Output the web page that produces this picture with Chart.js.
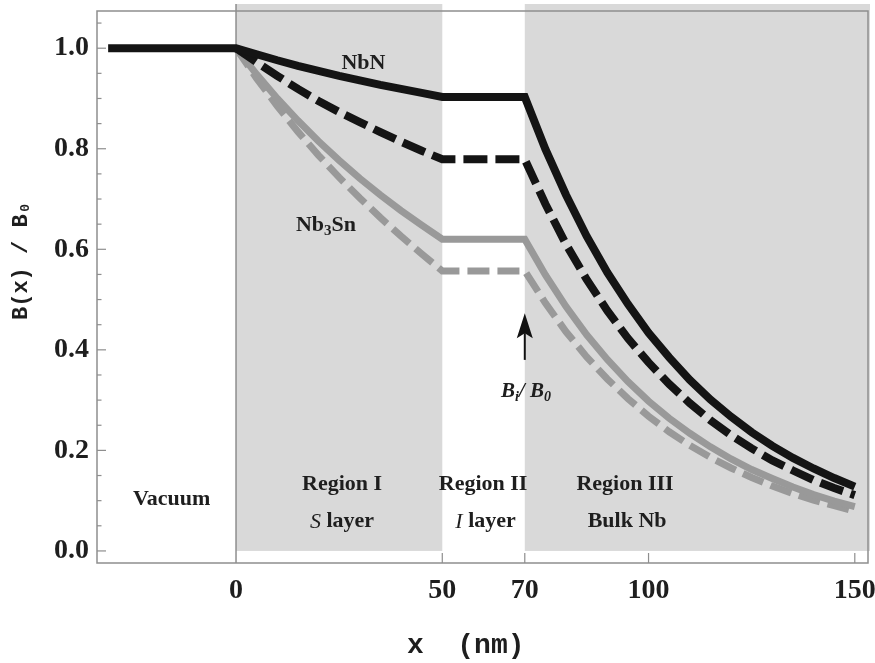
<!DOCTYPE html>
<html><head><meta charset="utf-8">
<script src="https://cdn.jsdelivr.net/npm/chart.js@4.4.0/dist/chart.umd.min.js"></script>
<style>html,body{margin:0;padding:0;background:#fff;}canvas{display:block;}</style>
</head><body>
<canvas id="c" width="875" height="663"></canvas>
<script>
// ---- data ----
const xVacuum = [-31, 0];
const yVacuum = [1.0, 1.0];
const xRegionI = [0,5,10,15,20,25,30,35,40,45,50];
const xRegionIII = [70,75,80,85,90,95,100,105,110,115,120,125,130,135,140,145,150];

const nbnSolidI = [1.000,0.988,0.976,0.965,0.955,0.945,0.936,0.927,0.919,0.911,0.903];
const nbnSolidIII = [0.903,0.799,0.708,0.626,0.554,0.491,0.434,0.385,0.340,0.301,0.267,0.236,0.209,0.185,0.164,0.145,0.128];
const nbnDashI = [1.000,0.972,0.945,0.919,0.895,0.873,0.853,0.833,0.814,0.796,0.779];
const nbnDashIII = [0.779,0.690,0.610,0.540,0.478,0.423,0.375,0.332,0.294,0.260,0.230,0.204,0.180,0.160,0.141,0.125,0.111];
const nb3snSolidI = [1.000,0.948,0.900,0.856,0.815,0.777,0.741,0.708,0.677,0.648,0.620];
const nb3snSolidIII = [0.620,0.549,0.486,0.430,0.381,0.337,0.298,0.264,0.234,0.207,0.183,0.162,0.144,0.127,0.112,0.099,0.088];
const nb3snDashI = [1.000,0.940,0.885,0.834,0.787,0.743,0.702,0.663,0.626,0.591,0.557];
const nb3snDashIII = [0.557,0.493,0.436,0.386,0.342,0.303,0.268,0.237,0.210,0.186,0.165,0.146,0.129,0.114,0.101,0.090,0.079];

const xTicks = [0, 50, 70, 100, 150];
const yTicks = [0, 0.2, 0.4, 0.6, 0.8, 1.0];
const shadedBands = [[0, 50], [70, 160]];
const arrowX = 70, arrowFrom = 0.38, arrowTo = 0.473;

function pts(xs, ys){ return xs.map((x,i)=>({x:x, y:ys[i]})); }
function series(yI, yIII, withVacuum){
  const a = withVacuum ? pts(xVacuum, yVacuum).slice(0,1) : [];
  return a.concat(pts(xRegionI, yI), pts(xRegionIII, yIII));
}

const SERIF = '"Liberation Serif", "Times New Roman", serif';
const MONO = '"Liberation Mono", "DejaVu Sans Mono", monospace';
const txt = '#1e1e1e';

function drawRuns(ctx, parts, cx, cy){
  let w = 0;
  for (const p of parts){ ctx.font = p.f; p.w = ctx.measureText(p.t).width; w += p.w; }
  let xx = cx - w/2;
  ctx.textAlign = 'left'; ctx.textBaseline = 'middle';
  for (const p of parts){ ctx.font = p.f; ctx.fillText(p.t, xx, cy + (p.dy||0)); xx += p.w; }
}
const B22 = 'bold 22px ' + SERIF, I22 = 'italic 22px ' + SERIF, B15 = 'bold 15px ' + SERIF;
const BI21 = 'italic bold 21px ' + SERIF, BI14 = 'italic bold 14px ' + SERIF;
const annotations = [
  {x:30.9, y:0.969, parts:[{t:'NbN', f:B22}]},
  {x:21.8, y:0.648, parts:[{t:'Nb', f:B22},{t:'3', f:B15, dy:6},{t:'Sn', f:B22}]},
  {x:-15.6, y:0.103, parts:[{t:'Vacuum', f:B22}]},
  {x:25.7, y:0.133, parts:[{t:'Region I', f:B22}]},
  {x:25.7, y:0.058, parts:[{t:'S', f:I22},{t:' layer', f:B22}]},
  {x:59.9, y:0.133, parts:[{t:'Region II', f:B22}]},
  {x:60.5, y:0.058, parts:[{t:'I', f:I22},{t:' layer', f:B22}]},
  {x:94.3, y:0.133, parts:[{t:'Region III', f:B22}]},
  {x:94.8, y:0.058, parts:[{t:'Bulk Nb', f:B22}]},
  {x:70.3, y:0.316, parts:[{t:'B', f:BI21},{t:'i', f:BI14, dy:5},{t:'/ ', f:BI21},{t:'B', f:BI21},{t:'0', f:BI14, dy:5}]}
];

const decor = {
  id:'decor',
  beforeDatasetsDraw(chart){
    const {ctx, chartArea:a, scales:{x, y}} = chart;
    ctx.save();
    const y0 = y.getPixelForValue(0);
    const top = a.top - 7;
    ctx.fillStyle = '#d9d9d9';
    for (const [s,e] of shadedBands){
      const xs = x.getPixelForValue(s);
      const xe = Math.min(x.getPixelForValue(e), a.right + 2);
      ctx.fillRect(xs, top, xe - xs, y0 - top);
    }
    ctx.strokeStyle = '#8e8e8e'; ctx.lineWidth = 1.5;
    ctx.strokeRect(a.left, a.top, a.right - a.left, a.bottom - a.top);
    const px0 = x.getPixelForValue(0);
    ctx.beginPath(); ctx.moveTo(px0, top); ctx.lineTo(px0, a.bottom); ctx.stroke();
    ctx.lineWidth = 1.2;
    for (let i = 0; i <= 21; i++){
      const v = i * 0.05;
      const py = y.getPixelForValue(v);
      if (py < a.top) continue;
      const len = (i % 4 === 0) ? 9 : 4.5;
      ctx.beginPath(); ctx.moveTo(a.left, py); ctx.lineTo(a.left + len, py); ctx.stroke();
    }
    for (const v of xTicks){
      if (v === 0) continue;
      const px = x.getPixelForValue(v);
      ctx.beginPath(); ctx.moveTo(px, a.bottom); ctx.lineTo(px, a.bottom - 10); ctx.stroke();
    }
    ctx.restore();
  },
  afterDatasetsDraw(chart){
    const {ctx, scales:{x, y}} = chart;
    ctx.save();
    ctx.fillStyle = txt;
    for (const an of annotations){
      drawRuns(ctx, an.parts, x.getPixelForValue(an.x), y.getPixelForValue(an.y));
    }
    const ax = x.getPixelForValue(arrowX);
    const yb = y.getPixelForValue(arrowFrom), yt = y.getPixelForValue(arrowTo);
    ctx.strokeStyle = '#111'; ctx.lineWidth = 2;
    ctx.beginPath(); ctx.moveTo(ax, yb); ctx.lineTo(ax, yt + 20); ctx.stroke();
    ctx.fillStyle = '#111';
    ctx.beginPath(); ctx.moveTo(ax, yt); ctx.lineTo(ax - 8, yt + 25); ctx.lineTo(ax, yt + 20); ctx.lineTo(ax + 8, yt + 25); ctx.closePath(); ctx.fill();
    ctx.restore();
  }
};

const common = {fill:false, pointRadius:0, tension:0, borderCapStyle:'butt', borderJoinStyle:'miter'};
new Chart(document.getElementById('c'), {
  type:'line',
  data:{
    datasets:[
      Object.assign({label:'NbN', data:series(nbnSolidI, nbnSolidIII, true), borderColor:'#141414', borderWidth:8}, common),
      Object.assign({label:'NbN (dashed)', data:series(nbnDashI, nbnDashIII, false), borderColor:'#141414', borderWidth:8, borderDash:[24,8]}, common),
      Object.assign({label:'Nb3Sn', data:series(nb3snSolidI, nb3snSolidIII, false), borderColor:'#999999', borderWidth:7}, common),
      Object.assign({label:'Nb3Sn (dashed)', data:series(nb3snDashI, nb3snDashIII, false), borderColor:'#999999', borderWidth:7, borderDash:[22,8]}, common)
    ]
  },
  options:{
    responsive:false, animation:false,
    layout:{padding:{left:0, right:7, top:11, bottom:0}},
    plugins:{legend:{display:false}, tooltip:{enabled:false}},
    scales:{
      x:{type:'linear', min:-33.7, max:153.2,
        afterBuildTicks:(s)=>{ s.ticks = xTicks.map(v=>({value:v})); },
        afterFit:(s)=>{ s.height = 100; s.paddingLeft = 0; s.paddingRight = 0; },
        grid:{display:false, drawTicks:false}, border:{display:false},
        ticks:{autoSkip:false, maxRotation:0, padding:11, color:txt, font:{family:SERIF, size:28, weight:'bold'}, callback:(v)=>String(v)},
        title:{display:true, text:'x  (nm)  ', color:txt, padding:{top:0, bottom:0}, font:{family:MONO, size:28, weight:'bold'}}
      },
      y:{type:'linear', min:-0.024, max:1.074,
        afterBuildTicks:(s)=>{ s.ticks = yTicks.map(v=>({value:v})); },
        afterFit:(s)=>{ s.width = 97; s.paddingTop = 0; s.paddingBottom = 0; },
        grid:{display:false, drawTicks:false}, border:{display:false},
        ticks:{padding:8, color:txt, font:{family:SERIF, size:28, weight:'bold'}, callback:(v)=>Number(v).toFixed(1)},
        title:{display:true, text:'    B(x) / B\u2080', color:txt, padding:{top:8, bottom:0}, font:{family:MONO, size:22, weight:'bold'}}
      }
    }
  },
  plugins:[decor]
});
</script>
</body></html>
